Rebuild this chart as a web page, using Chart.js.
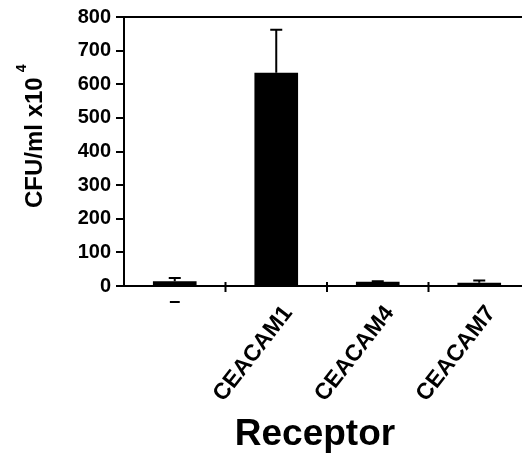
<!DOCTYPE html>
<html>
<head>
<meta charset="utf-8">
<script src="https://cdn.jsdelivr.net/npm/chart.js@4.4.1/dist/chart.umd.min.js"></script>
<style>
  html, body { margin: 0; padding: 0; overflow: hidden; background: #fff; }
  #wrap { width: 530px; height: 456px; }
</style>
</head>
<body>
<div id="wrap"><canvas id="myChart" width="530" height="456"></canvas></div>
<script>
// data
var receptors = ["-", "CEACAM1", "CEACAM4", "CEACAM7"];
var cfuMean = [14, 634, 13, 10];
var cfuErr = [10, 128, 1, 6];
var yMin = 0, yMax = 800, yStep = 100;

var FONT = '"Liberation Sans", Arial, Helvetica, sans-serif';

//!Custom drawing: error bars, frame top, x labels, axis titles
var extras = {
  id: "extras",
  afterDatasetsDraw: function(chart) {
    var ctx = chart.ctx, y = chart.scales.y;
    var bars = chart.getDatasetMeta(0).data;
    ctx.save();
    ctx.strokeStyle = "#000";
    ctx.lineWidth = 2;
    bars.forEach(function(bar, i) {
      if (!cfuErr[i]) return;
      var top = y.getPixelForValue(cfuMean[i] + cfuErr[i]);
      ctx.beginPath();
      ctx.moveTo(bar.x, bar.y);
      ctx.lineTo(bar.x, top);
      ctx.moveTo(bar.x - 6, top);
      ctx.lineTo(bar.x + 6, top);
      ctx.stroke();
    });
    ctx.restore();
  },
  afterDraw: function(chart) {
    var ctx = chart.ctx, area = chart.chartArea, x = chart.scales.x;
    ctx.save();
    ctx.strokeStyle = "#000";
    ctx.fillStyle = "#000";
    ctx.lineWidth = 2;
    // top frame line
    ctx.beginPath();
    ctx.moveTo(area.left, area.top);
    ctx.lineTo(area.right, area.top);
    ctx.stroke();
    // tick marks between categories, crossing the axis
    ctx.beginPath();
    for (var i = 0; i < receptors.length - 1; i++) {
      var tx = (x.getPixelForValue(i) + x.getPixelForValue(i + 1)) / 2;
      ctx.moveTo(tx, area.bottom - 4);
      ctx.lineTo(tx, area.bottom + 6);
    }
    ctx.stroke();
    // category labels
    receptors.forEach(function(lab, i) {
      var cx = x.getPixelForValue(i);
      if (lab === "-") {
        ctx.font = "bold 20px " + FONT;
        ctx.textAlign = "center";
        ctx.textBaseline = "middle";
        ctx.fillText("\u2013", cx, area.bottom + 15);
        return;
      }
      ctx.font = "bold 23px " + FONT;
      ctx.save();
      ctx.translate(cx + 12, area.bottom + 23);
      ctx.rotate(-52 * Math.PI / 180);
      ctx.textAlign = "right";
      ctx.textBaseline = "middle";
      ctx.fillText(lab, 0, 0);
      ctx.restore();
    });
    // x title
    ctx.font = "bold 37px " + FONT;
    ctx.textAlign = "center";
    ctx.textBaseline = "alphabetic";
    ctx.fillText("Receptor", (area.left + area.right) / 2 - 12, area.bottom + 159);
    // y title with superscript
    ctx.save();
    ctx.translate(42, area.bottom - 78);
    ctx.rotate(-Math.PI / 2);
    ctx.textAlign = "left";
    ctx.font = "bold 24px " + FONT;
    var main = "CFU/ml x10";
    ctx.fillText(main, 0, 0);
    var w = ctx.measureText(main).width;
    ctx.font = "bold 14px " + FONT;
    ctx.fillText("4", w + 5, -16);
    ctx.restore();
    ctx.restore();
  }
};

var ctx = document.getElementById("myChart").getContext("2d");
var myChart = new Chart(ctx, {
  type: "bar",
  data: {
    labels: receptors,
    datasets: [
      {
        label: "CFU/ml x10^4",
        data: cfuMean,
        backgroundColor: "#000",
        borderWidth: 0,
        barPercentage: 0.43,
        categoryPercentage: 1
      }
    ]
  },
  options: {
    responsive: false,
    animation: false,
    layout: { padding: { top: 17, right: 0, left: 0, bottom: 0 } },
    plugins: { legend: { display: false }, tooltip: { enabled: false } },
    scales: {
      x: {
        ticks: { display: false },
        grid: { display: false },
        border: { color: "#000", width: 2 },
        afterFit: function(s) { s.height = 170; }
      },
      y: {
        min: yMin,
        max: yMax,
        ticks: {
          stepSize: yStep,
          color: "#000",
          padding: 5,
          font: { family: FONT, size: 20, weight: "bold" }
        },
        grid: { drawOnChartArea: false, color: "#000", lineWidth: 2, tickLength: 8 },
        border: { color: "#000", width: 2 },
        afterFit: function(s) { s.width = 124; }
      }
    }
  },
  plugins: [extras]
});
</script>
</body>
</html>
